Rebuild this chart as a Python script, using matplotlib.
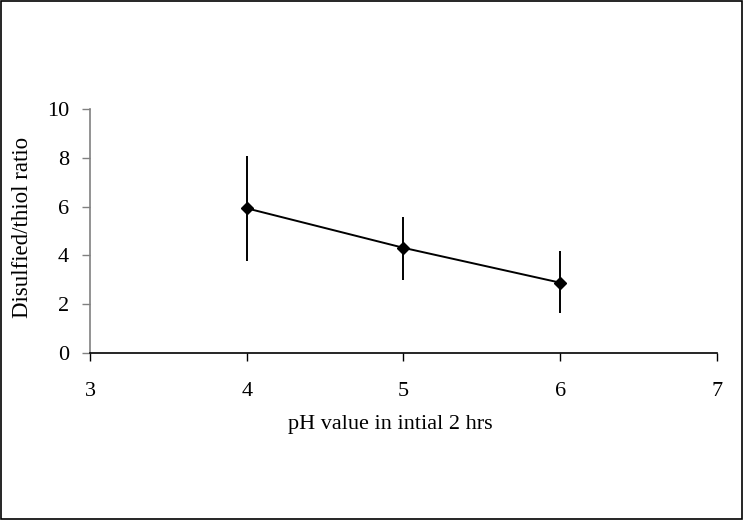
import matplotlib.pyplot as plt
from matplotlib.patches import Rectangle

# data
ph = [4, 5, 6]
ratio = [5.93, 4.31, 2.88]
err_low = [2.15, 1.33, 1.26]
err_high = [2.16, 1.26, 1.31]

plt.rcParams['font.family'] = ['Liberation Serif', 'DejaVu Serif']

fig = plt.figure(figsize=(7.43, 5.2), dpi=100)
ax = fig.add_axes([0.1211, 0.3212, 0.8439, 0.4692])

ax.errorbar(ph, ratio, yerr=[err_low, err_high], color='black', ecolor='black',
            marker='D', markersize=6.5, linewidth=1.4, elinewidth=1.4, capsize=0)

ax.set_xlim(3, 7)
ax.set_ylim(0, 10)
ax.set_xticks([3, 4, 5, 6, 7])
ax.set_yticks([0, 2, 4, 6, 8, 10])

for s in ['top', 'right']:
    ax.spines[s].set_visible(False)
ax.spines['left'].set_color('#808080')
ax.spines['left'].set_linewidth(1.2)
ax.spines['bottom'].set_color('black')
ax.spines['bottom'].set_linewidth(1.2)

ax.tick_params(axis='y', direction='out', length=6, width=1, color='#808080',
               labelsize=16, pad=9)
ax.tick_params(axis='x', direction='out', length=6, width=1, color='black',
               labelsize=16, pad=15)

ax.set_xlabel('pH value in intial 2 hrs', fontsize=16, va='center')
ax.xaxis.set_label_coords(0.479, -0.295)
ax.set_ylabel('Disulfied/thiol ratio', fontsize=16.5, va='center')
ax.yaxis.set_label_coords(-0.108, 0.515)

# frame around the whole figure
fig.patches.append(Rectangle((0.001, 0.001), 0.997, 0.997, transform=fig.transFigure,
                             fill=False, edgecolor='black', linewidth=1.2))

fig.savefig('out.png', dpi=100)
